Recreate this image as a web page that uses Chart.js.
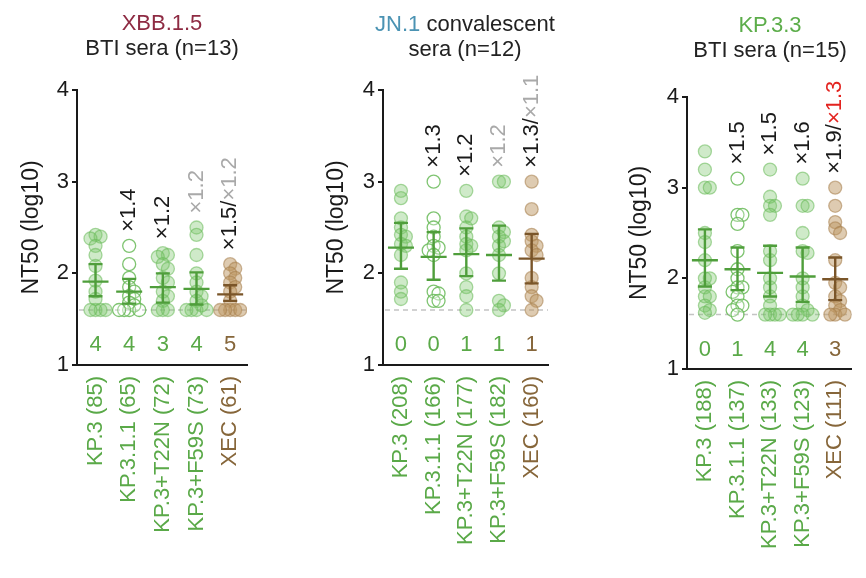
<!DOCTYPE html>
<html><head><meta charset="utf-8">
<script src="https://cdn.jsdelivr.net/npm/chart.js@4.4.1/dist/chart.umd.min.js"></script>
<style>
body{margin:0;background:#fff;width:866px;height:578px;position:relative;overflow:hidden;font-family:"Liberation Sans",Arial,sans-serif}
.pc{position:absolute;top:0;height:578px}
.ttl{position:absolute;text-align:center;font-size:22px;line-height:25px;color:#222;white-space:nowrap;transform:translateX(-50%)}
</style></head><body>
<div class="pc" style="left:0;width:290px"><canvas id="c1" width="290" height="578"></canvas></div>
<div class="pc" style="left:290px;width:290px"><canvas id="c2" width="290" height="578"></canvas></div>
<div class="pc" style="left:580px;width:286px"><canvas id="c3" width="286" height="578"></canvas></div>
<div class="ttl" style="left:162px;top:10px"><span style="color:#8e2b43">XBB.1.5</span><br>BTI sera (n=13)</div>
<div class="ttl" style="left:465px;top:11px"><span style="color:#4b93b3">JN.1</span> convalescent<br>sera (n=12)</div>
<div class="ttl" style="left:770px;top:12px"><span style="color:#5cad4a">KP.3.3</span><br>BTI sera (n=15)</div>
<script>
// ---------- data ----------
const yTicks = [1, 2, 3, 4];
const detectionLimit = 1.6;
const variantKinds = ["KP.3", "KP.3.1.1", "KP.3+T22N", "KP.3+F59S", "XEC"];

const xbbLabels = ["KP.3 (85)", "KP.3.1.1 (65)", "KP.3+T22N (72)", "KP.3+F59S (73)", "XEC (61)"];
const xbbKP3  = [2.42, 2.40, 2.38, 2.30, 2.20, 2.08, 1.92, 1.80, 1.72, 1.60, 1.60, 1.60, 1.60];
const xbbKP311 = [2.30, 2.10, 1.95, 1.85, 1.80, 1.75, 1.72, 1.68, 1.65, 1.60, 1.60, 1.60, 1.60];
const xbbT22N = [2.22, 2.20, 2.18, 2.10, 2.05, 1.95, 1.90, 1.80, 1.75, 1.70, 1.60, 1.60, 1.60];
const xbbF59S = [2.50, 2.42, 2.20, 2.00, 1.90, 1.80, 1.75, 1.70, 1.65, 1.60, 1.60, 1.60, 1.60];
const xbbXEC  = [2.10, 2.05, 2.00, 1.95, 1.90, 1.85, 1.80, 1.70, 1.60, 1.60, 1.60, 1.60, 1.60];
const xbbMean = [1.91, 1.80, 1.85, 1.83, 1.77];
const xbbLow  = [1.75, 1.67, 1.68, 1.66, 1.70];
const xbbHigh = [2.10, 1.94, 2.00, 2.01, 1.87];
const xbbBelow = [4, 4, 3, 4, 5];
const xbbFold = ["", "×1.4", "×1.2", "×1.2", "×1.5/×1.2"];
const xbbFoldTone = [[], ["k"], ["k"], ["g"], ["k", "g"]];

const jn1Labels = ["KP.3 (208)", "KP.3.1.1 (166)", "KP.3+T22N (177)", "KP.3+F59S (182)", "XEC (160)"];
const jn1KP3  = [2.90, 2.82, 2.60, 2.50, 2.42, 2.40, 2.32, 2.30, 2.20, 1.90, 1.80, 1.72];
const jn1KP311 = [3.00, 2.60, 2.50, 2.40, 2.30, 2.28, 2.25, 2.20, 1.80, 1.78, 1.70, 1.70];
const jn1T22N = [2.90, 2.62, 2.60, 2.50, 2.40, 2.32, 2.30, 2.25, 2.00, 1.85, 1.75, 1.60];
const jn1F59S = [3.00, 3.00, 2.50, 2.45, 2.40, 2.35, 2.30, 2.20, 2.00, 1.70, 1.65, 1.60];
const jn1XEC  = [3.00, 2.70, 2.42, 2.35, 2.30, 2.25, 2.20, 1.95, 1.85, 1.75, 1.70, 1.60];
const jn1Mean = [2.28, 2.18, 2.21, 2.20, 2.16];
const jn1Low  = [2.05, 1.93, 1.97, 1.92, 1.89];
const jn1High = [2.55, 2.45, 2.49, 2.52, 2.43];
const jn1Below = [0, 0, 1, 1, 1];
const jn1Fold = ["", "×1.3", "×1.2", "×1.2", "×1.3/×1.1"];
const jn1FoldTone = [[], ["k"], ["k"], ["g"], ["k", "g"]];

const kp33Labels = ["KP.3 (188)", "KP.3.1.1 (137)", "KP.3+T22N (133)", "KP.3+F59S (123)", "XEC (111)"];
const kp33KP3  = [3.40, 3.20, 3.00, 3.00, 2.50, 2.40, 2.20, 2.00, 2.00, 1.90, 1.80, 1.80, 1.70, 1.65, 1.62];
const kp33KP311 = [3.10, 2.70, 2.70, 2.60, 2.30, 2.10, 2.00, 1.90, 1.90, 1.85, 1.80, 1.70, 1.70, 1.65, 1.60];
const kp33T22N = [3.20, 2.90, 2.80, 2.80, 2.70, 2.30, 2.20, 2.00, 1.90, 1.80, 1.70, 1.60, 1.60, 1.60, 1.60];
const kp33F59S = [3.10, 2.80, 2.80, 2.50, 2.30, 2.28, 2.00, 1.90, 1.80, 1.70, 1.65, 1.60, 1.60, 1.60, 1.60];
const kp33XEC  = [3.00, 2.80, 2.62, 2.55, 2.50, 2.20, 1.95, 1.90, 1.80, 1.75, 1.70, 1.65, 1.60, 1.60, 1.60];
const kp33Mean = [2.20, 2.10, 2.06, 2.02, 1.99];
const kp33Low  = [1.91, 1.87, 1.80, 1.74, 1.76];
const kp33High = [2.54, 2.34, 2.36, 2.34, 2.23];
const kp33Below = [0, 1, 4, 4, 3];
const kp33Fold = ["", "×1.5", "×1.5", "×1.6", "×1.9/×1.3"];
const kp33FoldTone = [[], ["k"], ["k"], ["k"], ["k", "r"]];

// ---------- styling ----------
const FONT = '"Liberation Sans", Arial, sans-serif';
Chart.defaults.font.family = FONT;
const GREEN_TXT = '#5aa948', BROWN_TXT = '#86663a';
const toneColor = {k: '#1a1a1a', g: '#a9a9a9', r: '#e3231f'};
const isXec = i => i === 4;
const isOpen = i => i === 1;

function swarm(vals, ci) {
  const placed = [], out = [];
  const step = 0.15, minD = 4.8, pxX = 33.5, pxY = 91.5;
  vals.forEach(v => {
    let off = 0;
    for (let k = 0; k < 30; k++) {
      const o = k === 0 ? 0 : (k % 2 ? 1 : -1) * Math.ceil(k / 2) * step;
      const ok = placed.every(p => Math.hypot((p.o - o) * pxX, (p.v - v) * pxY) >= minD);
      if (ok) { off = o; break; }
    }
    placed.push({o: off, v});
    out.push({x: ci + off, y: v});
  });
  return out;
}

const overlay = {
  id: 'overlay',
  beforeDatasetsDraw(chart) {
    const {ctx, chartArea: a, scales: {y}} = chart;
    const yy = y.getPixelForValue(detectionLimit);
    ctx.save();
    ctx.strokeStyle = '#c4c4c4'; ctx.lineWidth = 1.5; ctx.setLineDash([5, 4]);
    ctx.beginPath(); ctx.moveTo(a.left + 2, yy); ctx.lineTo(a.right, yy); ctx.stroke();
    ctx.restore();
  },
  afterDatasetsDraw(chart) {
    const {ctx, scales: {x, y}} = chart;
    const p = chart.options.plugins.overlay;
    ctx.save();
    p.mean.forEach((m, i) => {
      const cx = x.getPixelForValue(i);
      const ym = y.getPixelForValue(m), yl = y.getPixelForValue(p.low[i]), yh = y.getPixelForValue(p.high[i]);
      ctx.strokeStyle = isXec(i) ? '#7a5529' : '#4f9e3b';
      ctx.lineWidth = 2.4;
      ctx.beginPath();
      ctx.moveTo(cx, yl); ctx.lineTo(cx, yh);
      ctx.moveTo(cx - 7, yl); ctx.lineTo(cx + 7, yl);
      ctx.moveTo(cx - 7, yh); ctx.lineTo(cx + 7, yh);
      ctx.moveTo(cx - 13, ym); ctx.lineTo(cx + 13, ym);
      ctx.stroke();
    });
    ctx.font = '22px ' + FONT; ctx.textAlign = 'center'; ctx.textBaseline = 'middle';
    p.below.forEach((n, i) => {
      ctx.fillStyle = isXec(i) ? BROWN_TXT : GREEN_TXT;
      ctx.fillText(String(n), x.getPixelForValue(i), y.getPixelForValue(1.215));
    });
    ctx.font = '22px ' + FONT;
    p.fold.forEach((t, i) => {
      if (!t) return;
      const top = Math.max(...p.series[i]);
      const cx = x.getPixelForValue(i), y0 = y.getPixelForValue(top) - 14;
      const parts = t.includes('/') ? [t.slice(0, t.indexOf('/') + 1), t.slice(t.indexOf('/') + 1)] : [t];
      ctx.save();
      ctx.translate(cx, y0); ctx.rotate(-Math.PI / 2);
      ctx.textAlign = 'left'; ctx.textBaseline = 'middle';
      let off = 0;
      parts.forEach((s, j) => {
        ctx.fillStyle = toneColor[p.tone[i][j]];
        ctx.fillText(s, off, 0);
        off += ctx.measureText(s).width;
      });
      ctx.restore();
    });
    ctx.restore();
  }
};

function makePanel(id, cfg) {
  const series = cfg.series;
  const datasets = series.map((vals, i) => ({
    data: swarm(vals, i),
    pointRadius: 6.5,
    pointBorderWidth: 1.3,
    backgroundColor: isXec(i) ? 'rgba(190,152,100,0.5)' : (isOpen(i) ? 'rgba(255,255,255,0.25)' : 'rgba(122,196,104,0.36)'),
    borderColor: isXec(i) ? 'rgba(165,125,75,0.55)' : (isOpen(i) ? 'rgba(104,186,88,0.85)' : 'rgba(104,186,88,0.55)'),
  }));
  new Chart(document.getElementById(id), {
    type: 'scatter',
    data: {datasets},
    options: {
      responsive: false, animation: false,
      layout: {padding: {left: 0, top: cfg.top, right: cfg.width - cfg.right, bottom: 0}},
      plugins: {
        legend: {display: false}, tooltip: {enabled: false},
        overlay: {mean: cfg.mean, low: cfg.low, high: cfg.high, below: cfg.below, fold: cfg.fold, tone: cfg.tone, series}
      },
      scales: {
        x: {
          type: 'linear', min: -0.55, max: 4.5,
          afterBuildTicks: s => { s.ticks = cfg.labels.map((_, i) => ({value: i})); },
          afterFit: s => { s.height = 578 - cfg.bottom; },
          grid: {display: false},
          border: {display: true, color: '#1a1a1a', width: 2},
          ticks: {
            autoSkip: false, maxRotation: 90, minRotation: 90, padding: 3,
            font: {size: 22}, callback: v => cfg.labels[v] ?? '',
            color: c => isXec(c.index) ? BROWN_TXT : GREEN_TXT
          }
        },
        y: {
          min: 1, max: 4,
          afterBuildTicks: s => { s.ticks = yTicks.map(v => ({value: v})); },
          afterFit: s => { s.width = cfg.left; },
          grid: {drawOnChartArea: false, drawTicks: true, tickLength: 5, color: '#1a1a1a', lineWidth: 2},
          border: {display: true, color: '#1a1a1a', width: 2},
          ticks: {font: {size: 22}, color: '#1a1a1a', padding: 3},
          title: {display: true, text: 'NT50 (log10)', font: {size: 23}, color: '#1a1a1a', padding: {top: cfg.titleX - 13.8, bottom: 0}}
        }
      }
    },
    plugins: [overlay]
  });
}

makePanel('c1', {width: 290, left: 77, right: 247, top: 90, bottom: 365, titleX: 32,
  labels: xbbLabels, series: [xbbKP3, xbbKP311, xbbT22N, xbbF59S, xbbXEC],
  mean: xbbMean, low: xbbLow, high: xbbHigh, below: xbbBelow, fold: xbbFold, tone: xbbFoldTone});
makePanel('c2', {width: 290, left: 93, right: 258, top: 90, bottom: 365, titleX: 47,
  labels: jn1Labels, series: [jn1KP3, jn1KP311, jn1T22N, jn1F59S, jn1XEC],
  mean: jn1Mean, low: jn1Low, high: jn1High, below: jn1Below, fold: jn1Fold, tone: jn1FoldTone});
makePanel('c3', {width: 286, left: 107, right: 272, top: 97, bottom: 369, titleX: 60,
  labels: kp33Labels, series: [kp33KP3, kp33KP311, kp33T22N, kp33F59S, kp33XEC],
  mean: kp33Mean, low: kp33Low, high: kp33High, below: kp33Below, fold: kp33Fold, tone: kp33FoldTone});
</script>
</body></html>
